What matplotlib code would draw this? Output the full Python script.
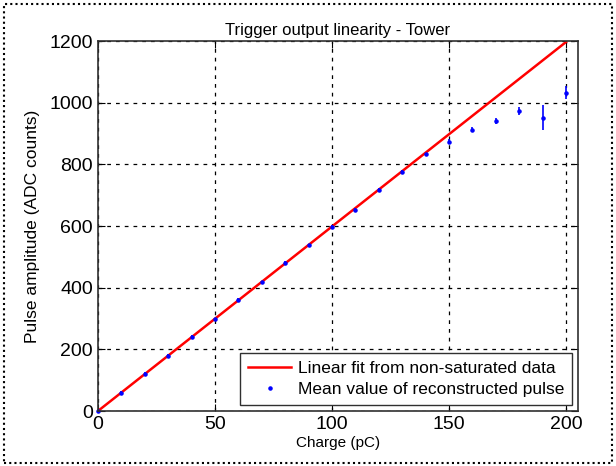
import matplotlib
matplotlib.use('Agg')
import matplotlib.pyplot as plt
from matplotlib.patches import Rectangle

charge = [0, 10, 20, 30, 40, 50, 60, 70, 80, 90, 100,
          110, 120, 130, 140, 150, 160, 170, 180, 190, 200]
amplitude = [0, 60, 120, 180, 240, 298, 360, 418, 480, 538, 597,
             652, 718, 776, 832, 873, 913, 941, 973, 951, 1032]
amp_err = [4, 5, 5, 5, 5, 5, 5, 5, 5, 5, 5,
           5, 5, 6, 6, 8, 8, 10, 12, 40, 21]
fit_x = [0, 200]
fit_y = [0, 1197]

plt.rcParams['font.family'] = ['Liberation Sans', 'DejaVu Sans']

fig = plt.figure(figsize=(6.16, 4.66), dpi=100)
ax = fig.add_axes([0.159, 0.118, 0.779, 0.794])

ax.plot(fit_x, fit_y, color='red', lw=1.8, label='Linear fit from non-saturated data')
ax.errorbar(charge, amplitude, yerr=amp_err, fmt='none', ecolor='blue',
            elinewidth=1.2, capsize=0, clip_on=False)
ax.plot(charge, amplitude, '.', color='blue', ms=4.5, clip_on=False,
        label='Mean value of reconstructed pulse')

ax.set_xlim(0, 205)
ax.set_ylim(0, 1200)
ax.set_xticks([0, 50, 100, 150, 200])
ax.set_yticks(range(0, 1201, 200))
ax.tick_params(direction='in', labelsize=14, top=True, right=True, length=5)
ax.grid(True, color='black', linestyle=(0, (3, 4)), lw=0.9)
for s in ax.spines.values():
    s.set_color('#303030')
    s.set_linewidth(1.2)

ax.set_xlabel('Charge (pC)', fontsize=11, labelpad=2)
ax.set_ylabel('Pulse amplitude (ADC counts)', fontsize=12.5, labelpad=7)
ax.set_title('Trigger output linearity - Tower', fontsize=12, pad=4)

leg = ax.legend(loc='lower right', fontsize=12.5, fancybox=False, framealpha=1,
                edgecolor='#303030', borderaxespad=0.35, handlelength=2.5,
                handletextpad=0.35, borderpad=0.45, labelspacing=0.35)
leg.get_frame().set_linewidth(1.0)

fig.patches.append(Rectangle((0.006, 0.006), 0.988, 0.985, transform=fig.transFigure,
                             fill=False, edgecolor='black', linestyle=(0, (1, 1.5)), lw=1.5))

fig.savefig('out.png', dpi=100)
